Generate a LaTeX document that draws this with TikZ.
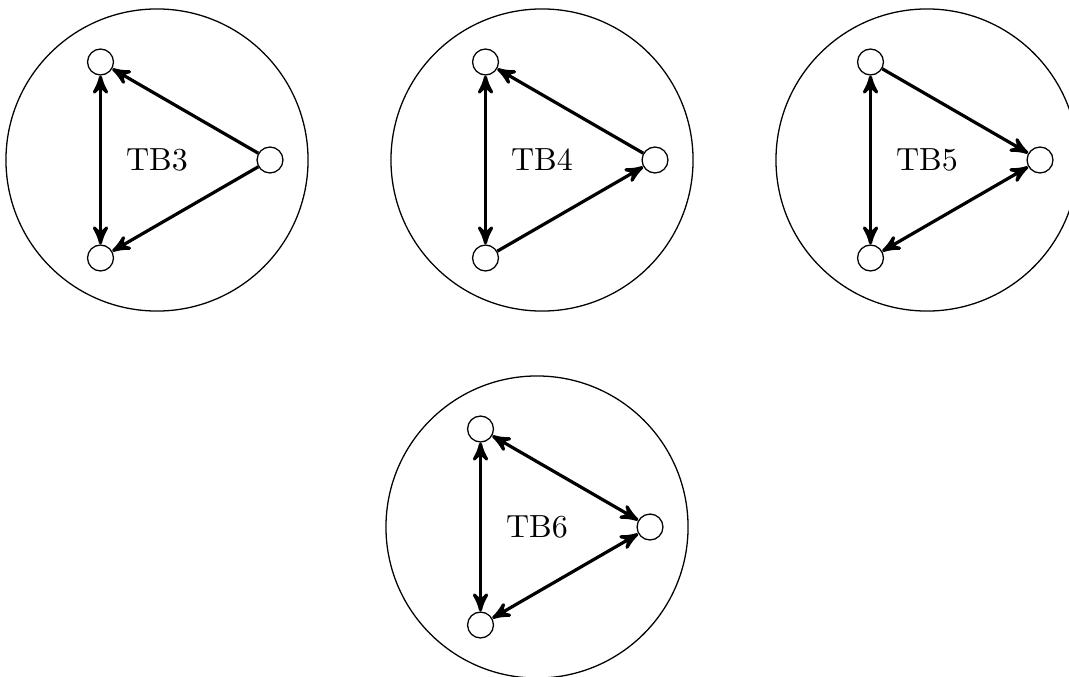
\documentclass[tikz,border=0pt]{standalone}
\usetikzlibrary{arrows}
\begin{document}
\begin{tikzpicture}[x=0.3125pt,y=-0.3125pt,>=stealth',
  big/.style={draw,circle,line width=0.4pt,inner sep=0pt,minimum size=94.4pt},
  vert/.style={draw,circle,line width=0.4pt,inner sep=0pt,minimum size=8.1pt},
  edge/.style={line width=1pt}]
\useasboundingbox (0,0) rectangle (1069,676);
\clip (0,0) rectangle (1069,676);
% TB3
\node[big] (c3) at (157,160) {};
\node at (157,160) {TB3};
\node[vert] (t3) at (100.5,62) {};
\node[vert] (b3) at (100.5,258) {};
\node[vert] (r3) at (270,160) {};
\draw[edge,<->] (t3) -- (b3);
\draw[edge,->] (r3) -- (t3);
\draw[edge,->] (r3) -- (b3);
% TB4
\node[big] (c4) at (542,160) {};
\node at (542,160) {TB4};
\node[vert] (t4) at (485.5,62) {};
\node[vert] (b4) at (485.5,258) {};
\node[vert] (r4) at (655,160) {};
\draw[edge,<->] (t4) -- (b4);
\draw[edge,->] (r4) -- (t4);
\draw[edge,->] (b4) -- (r4);
% TB5
\node[big] (c5) at (927,160) {};
\node at (927,160) {TB5};
\node[vert] (t5) at (870.5,62) {};
\node[vert] (b5) at (870.5,258) {};
\node[vert] (r5) at (1040,160) {};
\draw[edge,<->] (t5) -- (b5);
\draw[edge,->] (t5) -- (r5);
\draw[edge,<->] (b5) -- (r5);
% TB6
\node[big] (c6) at (537,527) {};
\node at (537,527) {TB6};
\node[vert] (t6) at (480.5,429) {};
\node[vert] (b6) at (480.5,625) {};
\node[vert] (r6) at (650,527) {};
\draw[edge,<->] (t6) -- (b6);
\draw[edge,<->] (t6) -- (r6);
\draw[edge,<->] (b6) -- (r6);
\end{tikzpicture}
\end{document}
